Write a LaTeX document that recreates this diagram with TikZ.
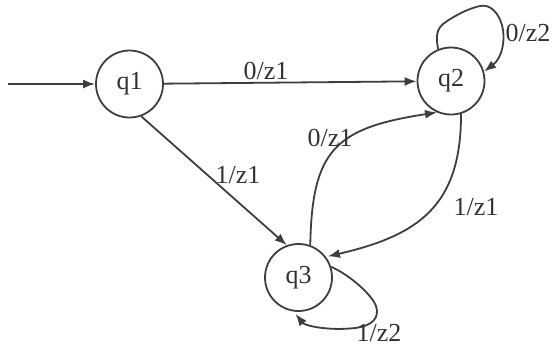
\documentclass[tikz,border=0pt]{standalone}
\usepackage{fontspec}
\setmainfont{Liberation Serif}
\usetikzlibrary{arrows.meta}
\definecolor{ink}{RGB}{62,62,62}
\definecolor{txt}{RGB}{50,50,50}
\begin{document}
\begin{tikzpicture}[x=1pt,y=-1pt,
  every node/.style={font=\fontsize{26}{30}\selectfont, text=txt},
  state/.style={circle, draw=ink, line width=1.8pt, minimum size=67pt, inner sep=0pt},
  trans/.style={draw=ink, line width=1.8pt, -{Latex[length=12pt,width=9pt]}},
  lbl/.style={anchor=base, inner sep=0pt}]
\useasboundingbox (0,0) rectangle (554,349);

% states
\node[state] (q1) at (129.5,84) {q1};
\node[state] (q2) at (451,81) {q2};
\node[state] (q3) at (298.5,277.5) {q3};

% initial arrow
\coordinate (init) at (8,84);
\draw[trans] (init) -- (q1);

% q1 -> q2
\draw[trans] (q1) -- (q2);
\node[lbl] (l12) at (266,79) {0/z1};

% q1 -> q3
\draw[trans] (q1.-70) -- (q3.110);
\node[lbl] (l13) at (238,183) {1/z1};

% q3 -> q2
\draw[trans] (q3.70) .. controls (312,150) and (335,128) .. (q2.-114);
\node[lbl] (l32) at (330,146) {0/z1};

% q2 -> q3
\draw[trans, shorten >=2pt] (q2.-73) .. controls (461,205) and (420,235) .. (q3.37);
\node[lbl] (l23) at (476,215) {1/z1};

% self loop on q2
\draw[trans] (q2.112) .. controls (436,38) and (436,30) .. (443,24)
  .. controls (455,15) and (470,8) .. (480,6)
  .. controls (490,4) and (498,12) .. (502,25)
  .. controls (506,40) and (502,58) .. (q2.16);
\node[lbl] (l22) at (528,41) {0/z2};

% self loop on q3
\draw[trans, shorten >=3pt] (q3.18) .. controls (350,275) and (372,295) .. (376,306)
  .. controls (380,318) and (372,326) .. (355,328)
  .. controls (330,331) and (305,326) .. (q3.-98);
\node[lbl] (l33) at (379,341) {1/z2};
\end{tikzpicture}
\end{document}
